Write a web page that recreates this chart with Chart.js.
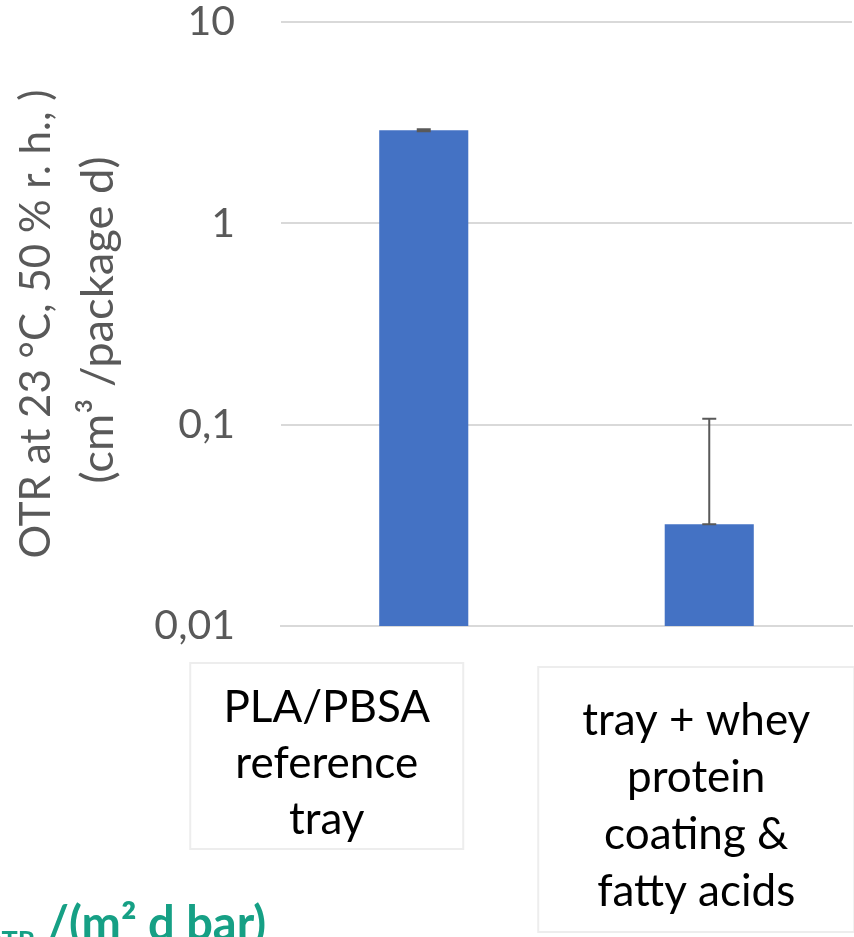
<!DOCTYPE html>
<html>
<head>
<meta charset="utf-8">
<script src="https://cdn.jsdelivr.net/npm/chart.js@4.4.0/dist/chart.umd.min.js"></script>
<style>
  html, body { margin: 0; padding: 0; background: #ffffff; overflow: hidden; }
  #wrap { position: relative; width: 854px; height: 937px; }
</style>
</head>
<body>
<div id="wrap"><canvas id="otr" width="854" height="937"></canvas></div>
<script>
// Oxygen transmission rate per package, measured at 23 °C / 50 % r. h.
const categories = [
  ["PLA/PBSA", "reference", "tray"],
  ["tray + whey", "protein", "coating &", "fatty acids"]
];
const otrValues = [2.9, 0.032];        // cm³ / (package d)
const errorPlus = [0.03, 0.075];
const errorMinus = [0.03, 0];
const yTickValues = [0.01, 0.1, 1, 10];
const yTickLabels = ["0,01", "0,1", "1", "10"];
const yTitleLines = ["OTR at 23 °C, 50 % r. h., )", "(cm³ /package d)"];

const FONT = "Lato, 'Open Sans', sans-serif";
const TEAL = "#16A085";
const GREY_TEXT = "#595959";

// rotated title lines: baseline x, centre y, length along the axis
const titleLayout = [
  { x: 50, y: 324, span: 469 },
  { x: 113, y: 320, span: 327 }
];

// Category label boxes, placed relative to each bar's centre
const labelBoxes = [
  { dx: -97, top: 663, width: 273, height: 186, baseline: 722, gap: 56 },
  { dx: -13, top: 667, width: 316, height: 265, baseline: 735, gap: 57 }
];

const errorBarPlugin = {
  id: 'errorBars',
  afterDatasetsDraw(chart) {
    const { ctx, scales: { y } } = chart;
    const meta = chart.getDatasetMeta(0);
    ctx.save();
    ctx.strokeStyle = GREY_TEXT;
    ctx.lineWidth = 2;
    meta.data.forEach((bar, i) => {
      const v = otrValues[i];
      const yHi = y.getPixelForValue(v + errorPlus[i]);
      const yLo = y.getPixelForValue(v - errorMinus[i]);
      const cap = 7;
      ctx.beginPath();
      ctx.moveTo(bar.x, yLo); ctx.lineTo(bar.x, yHi);
      ctx.moveTo(bar.x - cap, yHi); ctx.lineTo(bar.x + cap, yHi);
      ctx.moveTo(bar.x - cap, yLo); ctx.lineTo(bar.x + cap, yLo);
      ctx.stroke();
    });
    ctx.restore();
  }
};

const decorPlugin = {
  id: 'decor',
  afterDraw(chart) {
    const { ctx, scales: { x } } = chart;
    ctx.save();

    // rotated y-axis title, two lines, each sized to its span
    ctx.fillStyle = GREY_TEXT;
    ctx.textAlign = 'center';
    ctx.textBaseline = 'alphabetic';
    yTitleLines.forEach((line, i) => {
      const t = titleLayout[i];
      ctx.font = `46px ${FONT}`;
      const size = 46 * t.span / ctx.measureText(line).width;
      ctx.font = `${size.toFixed(2)}px ${FONT}`;
      ctx.save();
      ctx.translate(t.x, t.y);
      ctx.rotate(-Math.PI / 2);
      ctx.fillText(line, 0, 0);
      ctx.restore();
    });

    // category labels in light-bordered boxes
    categories.forEach((lines, i) => {
      const b = labelBoxes[i];
      const cx = x.getPixelForValue(i) + b.dx;
      ctx.strokeStyle = '#ededed';
      ctx.lineWidth = 2;
      ctx.strokeRect(cx - b.width / 2, b.top, b.width, b.height);
      ctx.fillStyle = '#000000';
      ctx.font = `44px ${FONT}`;
      ctx.textAlign = 'center';
      ctx.textBaseline = 'alphabetic';
      lines.forEach((t, k) => ctx.fillText(t, cx, b.baseline + k * b.gap));
    });

    // unit caption at the lower left
    ctx.fillStyle = TEAL;
    ctx.textBaseline = 'alphabetic';
    ctx.textAlign = 'right';
    ctx.font = `bold 27px ${FONT}`;
    ctx.fillText('OTR', 35, 950);
    ctx.textAlign = 'left';
    ctx.font = `bold 47px ${FONT}`;
    ctx.fillText('/(m² d bar)', 47, 940);

    ctx.restore();
  }
};

function draw() {
  new Chart(document.getElementById('otr'), {
    type: 'bar',
    data: {
      labels: categories.map(c => c.join(' ')),
      datasets: [{
        data: otrValues,
        backgroundColor: '#4472C4',
        borderWidth: 0,
        barPercentage: 0.312,
        categoryPercentage: 1.0
      }]
    },
    options: {
      responsive: false,
      animation: false,
      events: [],
      layout: { padding: { top: 22, right: 2, left: 0, bottom: 0 } },
      plugins: { legend: { display: false }, tooltip: { enabled: false }, title: { display: false } },
      scales: {
        x: {
          grid: { display: false },
          border: { display: true, color: '#d9d9d9', width: 2 },
          ticks: { display: false },
          afterFit(s) { s.height = 311; s.paddingLeft = 0; s.paddingRight = 0; }
        },
        y: {
          type: 'logarithmic',
          min: 0.01,
          max: 10,
          afterBuildTicks(s) { s.ticks = yTickValues.map(v => ({ value: v, major: true })); },
          ticks: {
            autoSkip: false,
            padding: 46,
            color: GREY_TEXT,
            font: { family: FONT, size: 41 },
            callback(value) {
              const i = yTickValues.findIndex(t => Math.abs(t - value) < t * 1e-6);
              return i >= 0 ? yTickLabels[i] : '';
            }
          },
          grid: { color: '#d9d9d9', lineWidth: 2, drawTicks: false },
          border: { display: false },
          afterFit(s) { s.width = 281; s.paddingTop = 0; s.paddingBottom = 0; }
        }
      }
    },
    plugins: [errorBarPlugin, decorPlugin]
  });
}

if (document.fonts && document.fonts.load) {
  Promise.all([document.fonts.load(`46px Lato`), document.fonts.load(`bold 44px Lato`)])
    .then(draw, draw);
} else {
  draw();
}
</script>
</body>
</html>
